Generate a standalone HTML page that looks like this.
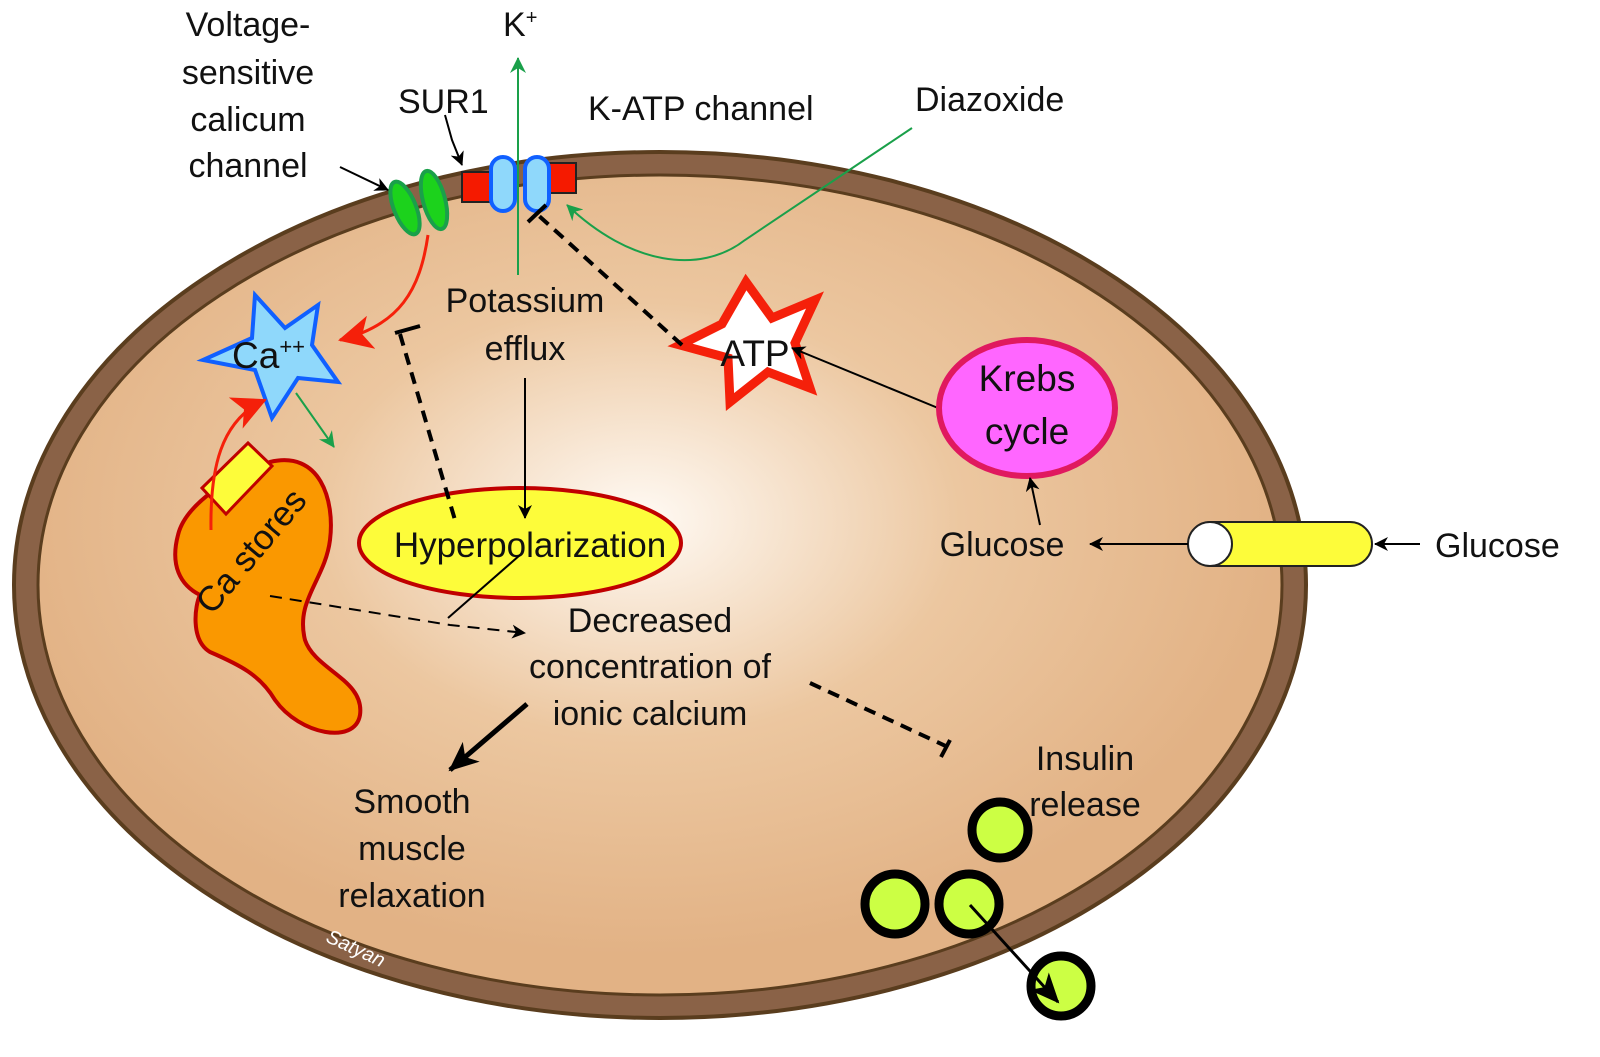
<!DOCTYPE html>
<html><head><meta charset="utf-8"><style>
body{margin:0;background:#fff}
svg text{font-family:"Liberation Sans",sans-serif;fill:#111}
</style></head><body>
<svg width="1600" height="1052" viewBox="0 0 1600 1052" xmlns="http://www.w3.org/2000/svg">
<defs>
<radialGradient id="g" cx="640" cy="520" r="640" gradientUnits="userSpaceOnUse" gradientTransform="translate(640 520) scale(1 0.68) translate(-640 -520)">
<stop offset="0" stop-color="#fffaf4"/><stop offset="0.5" stop-color="#ecc7a0"/><stop offset="1" stop-color="#e2b285"/></radialGradient>
<marker id="ab" markerWidth="14" markerHeight="14" refX="13" refY="7" orient="auto" markerUnits="userSpaceOnUse" viewBox="0 0 14 14"><path d="M0,0 L14,7 L0,14 L4,7Z" fill="#000"/></marker>
<marker id="ab2" markerWidth="30" markerHeight="30" refX="28" refY="15" orient="auto" markerUnits="userSpaceOnUse" viewBox="0 0 30 30"><path d="M0,2 L30,15 L0,28 L8,15Z" fill="#000"/></marker>
<marker id="ag" markerWidth="16" markerHeight="16" refX="15" refY="8" orient="auto" markerUnits="userSpaceOnUse" viewBox="0 0 16 16"><path d="M0,0 L16,8 L0,16 L5,8Z" fill="#1aa04a"/></marker>
<marker id="ar" markerWidth="34" markerHeight="34" refX="32" refY="17" orient="auto" markerUnits="userSpaceOnUse" viewBox="0 0 34 34"><path d="M0,0 L34,17 L0,34 L9,17Z" fill="#f5200a"/></marker>
</defs>
<ellipse cx="660" cy="585" rx="646" ry="433" fill="#8a6247" stroke="#5a3d1e" stroke-width="4"/>
<ellipse cx="660" cy="585" rx="622" ry="410" fill="url(#g)" stroke="#5a3d1e" stroke-width="3"/>

<line x1="518" y1="275" x2="518" y2="58" stroke="#1aa04a" stroke-width="2" marker-end="url(#ag)"/>
<rect x="462" y="172" width="32" height="30" fill="#f51a00" stroke="#222" stroke-width="2"/>
<rect x="544" y="163" width="32" height="30" fill="#f51a00" stroke="#222" stroke-width="2"/>
<rect x="491" y="157" width="24" height="54" rx="12" fill="#8fd8fb" stroke="#1060ff" stroke-width="4"/>
<rect x="525" y="157" width="24" height="54" rx="12" fill="#8fd8fb" stroke="#1060ff" stroke-width="4"/>
<ellipse cx="405" cy="208" rx="11" ry="28" transform="rotate(-22 405 208)" fill="#1cd21c" stroke="#1aa04a" stroke-width="4"/>
<ellipse cx="434" cy="200" rx="11" ry="30" transform="rotate(-15 434 200)" fill="#1cd21c" stroke="#1aa04a" stroke-width="4"/>

<text x="248" y="36" font-size="34" text-anchor="middle">Voltage-</text>
<text x="248" y="84" font-size="34" text-anchor="middle">sensitive</text>
<text x="248" y="131" font-size="34" text-anchor="middle">calicum</text>
<text x="248" y="177" font-size="34" text-anchor="middle">channel</text>
<line x1="340" y1="167" x2="388" y2="190" stroke="#000" stroke-width="2" marker-end="url(#ab)"/>
<text x="398" y="113" font-size="34">SUR1</text>
<path d="M445,115 L452,140 L462,165" stroke="#000" stroke-width="2" fill="none" marker-end="url(#ab)"/>
<text x="503" y="36" font-size="34">K<tspan font-size="20" dy="-12">+</tspan></text>
<text x="588" y="120" font-size="34">K-ATP channel</text>
<text x="915" y="111" font-size="34">Diazoxide</text>
<path d="M912,128 L745,240 C700,275 630,265 567,205" stroke="#1aa04a" stroke-width="2" fill="none" marker-end="url(#ag)"/>

<path d="M255,295 L285,328 L318,305 L312,345 L338,382 L298,378 L272,418 L255,370 L203,360 L252,338Z" fill="#8fd8fb" stroke="#1060ff" stroke-width="4"/>
<text x="232" y="368" font-size="37">Ca<tspan font-size="22" dy="-14">++</tspan></text>
<path d="M428,235 C420,290 400,325 340,340" stroke="#f5200a" stroke-width="3" fill="none" marker-end="url(#ar)"/>
<line x1="296" y1="393" x2="334" y2="447" stroke="#1aa04a" stroke-width="2" marker-end="url(#ag)"/>

<path d="M270,462 C320,450 335,500 330,540 C325,580 295,600 305,640 C315,670 365,680 360,715 C355,745 300,735 275,700 C260,675 240,665 210,652 C190,640 195,605 200,595 C180,585 170,565 178,535 C185,505 230,475 270,462Z" fill="#fa9800" stroke="#c00000" stroke-width="4"/>
<path d="M202,488 L248,443 L272,466 L226,514Z" fill="#fdfc3a" stroke="#c00000" stroke-width="3"/>
<path d="M211,530 C210,470 220,420 265,400" stroke="#f5200a" stroke-width="3" fill="none" marker-end="url(#ar)"/>
<text x="0" y="0" font-size="35" transform="translate(212,616) rotate(-50)">Ca stores</text>

<ellipse cx="520" cy="543" rx="161" ry="55" fill="#fdfc3a" stroke="#c00000" stroke-width="4"/>
<path d="M400,334 L455,520" stroke="#000" stroke-width="4" stroke-dasharray="12,8" fill="none"/>
<line x1="395" y1="333" x2="420" y2="326" stroke="#000" stroke-width="4"/>
<text x="525" y="312" font-size="34" text-anchor="middle">Potassium</text>
<text x="525" y="360" font-size="34" text-anchor="middle">efflux</text>
<line x1="525" y1="378" x2="525" y2="518" stroke="#000" stroke-width="2" marker-end="url(#ab)"/>
<text x="530" y="557" font-size="35" text-anchor="middle">Hyperpolarization</text>
<line x1="520" y1="555" x2="448" y2="618" stroke="#000" stroke-width="2"/>
<path d="M270,596 L450,625 L525,633" stroke="#000" stroke-width="2" stroke-dasharray="12,8" fill="none" marker-end="url(#ab)"/>

<path d="M746,282 L772,318 L815,300 L795,343 L810,388 L768,372 L730,402 L728,358 L680,345 L722,324Z" fill="#fff" stroke="#f5200a" stroke-width="9" stroke-linejoin="miter"/>
<text x="755" y="366" font-size="37" text-anchor="middle">ATP</text>
<path d="M682,345 L538,215" stroke="#000" stroke-width="4" stroke-dasharray="12,8"/>
<line x1="528" y1="222" x2="546" y2="205" stroke="#000" stroke-width="4"/>
<line x1="938" y1="408" x2="792" y2="348" stroke="#000" stroke-width="2" marker-end="url(#ab)"/>
<ellipse cx="1027" cy="408" rx="88" ry="68" fill="#ff66ff" stroke="#e0195f" stroke-width="6"/>
<text x="1027" y="391" font-size="37" text-anchor="middle">Krebs</text>
<text x="1027" y="444" font-size="37" text-anchor="middle">cycle</text>
<text x="1002" y="556" font-size="34" text-anchor="middle">Glucose</text>
<line x1="1040" y1="525" x2="1030" y2="478" stroke="#000" stroke-width="2" marker-end="url(#ab)"/>
<rect x="1190" y="522" width="182" height="44" rx="22" fill="#fdfc3a" stroke="#222" stroke-width="2"/>
<ellipse cx="1210" cy="544" rx="22" ry="22" fill="#fff" stroke="#222" stroke-width="2"/>
<line x1="1188" y1="544" x2="1090" y2="544" stroke="#000" stroke-width="2" marker-end="url(#ab)"/>
<line x1="1420" y1="544" x2="1375" y2="544" stroke="#000" stroke-width="2" marker-end="url(#ab)"/>
<text x="1435" y="557" font-size="34">Glucose</text>

<text x="650" y="632" font-size="34" text-anchor="middle">Decreased</text>
<text x="650" y="678" font-size="34" text-anchor="middle">concentration of</text>
<text x="650" y="725" font-size="34" text-anchor="middle">ionic calcium</text>
<line x1="527" y1="704" x2="450" y2="770" stroke="#000" stroke-width="5" marker-end="url(#ab2)"/>
<text x="412" y="813" font-size="34" text-anchor="middle">Smooth</text>
<text x="412" y="860" font-size="34" text-anchor="middle">muscle</text>
<text x="412" y="907" font-size="34" text-anchor="middle">relaxation</text>
<path d="M810,683 L950,748" stroke="#000" stroke-width="4" stroke-dasharray="12,8"/>
<line x1="941" y1="757" x2="950" y2="740" stroke="#000" stroke-width="4"/>
<text x="1085" y="770" font-size="34" text-anchor="middle">Insulin</text>
<text x="1085" y="816" font-size="34" text-anchor="middle">release</text>
<g fill="#ccff44" stroke="#000" stroke-width="9">
<circle cx="1000" cy="830" r="28"/>
<circle cx="895" cy="904" r="30"/>
<circle cx="969" cy="904" r="30"/>
<circle cx="1061" cy="986" r="30"/>
</g>
<line x1="970" y1="905" x2="1058" y2="1002" stroke="#000" stroke-width="3" marker-end="url(#ab2)"/>
<text x="325" y="950" font-size="20" font-style="italic" font-family="Liberation Serif" style="fill:#fff" transform="rotate(25 345 945)">Satyan</text>
</svg>
</body></html>
